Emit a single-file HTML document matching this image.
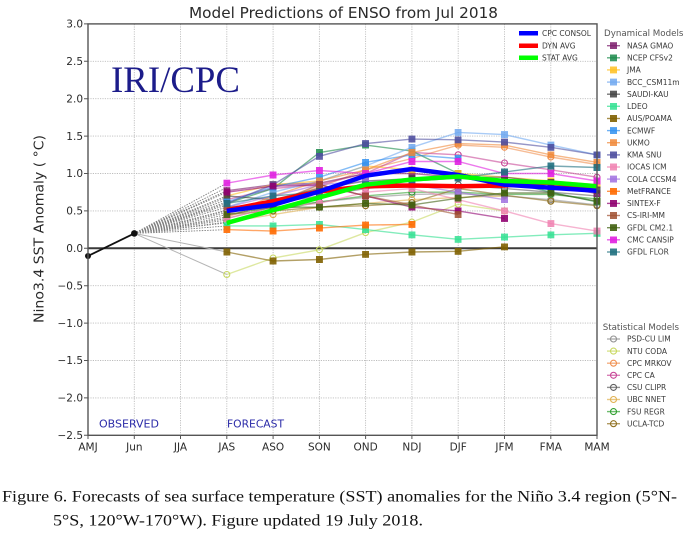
<!DOCTYPE html>
<html><head><meta charset="utf-8"><style>
html,body{margin:0;padding:0;background:#fff;}
svg{display:block;}
.t{font-family:"DejaVu Sans","Liberation Sans",sans-serif;fill:#2a2a2a;}
.lg{font-family:"DejaVu Sans","Liberation Sans",sans-serif;font-size:7.5px;fill:#3a3a3a;}
.ser{fill:none;stroke-width:1.4;stroke-opacity:0.6;}
</style></head><body>
<svg width="700" height="536" viewBox="0 0 700 536" xmlns="http://www.w3.org/2000/svg">
<defs>
<marker id="m1" viewBox="0 0 7 7" refX="3.5" refY="3.5" markerWidth="7" markerHeight="7" markerUnits="userSpaceOnUse"><rect width="7" height="7" fill="#7b1b6b" fill-opacity="0.85"/></marker>
<marker id="m2" viewBox="0 0 7 7" refX="3.5" refY="3.5" markerWidth="7" markerHeight="7" markerUnits="userSpaceOnUse"><rect width="7" height="7" fill="#1a8a4a" fill-opacity="0.85"/></marker>
<marker id="m3" viewBox="0 0 7 7" refX="3.5" refY="3.5" markerWidth="7" markerHeight="7" markerUnits="userSpaceOnUse"><rect width="7" height="7" fill="#ffc020" fill-opacity="0.85"/></marker>
<marker id="m4" viewBox="0 0 7 7" refX="3.5" refY="3.5" markerWidth="7" markerHeight="7" markerUnits="userSpaceOnUse"><rect width="7" height="7" fill="#70a8f0" fill-opacity="0.85"/></marker>
<marker id="m5" viewBox="0 0 7 7" refX="3.5" refY="3.5" markerWidth="7" markerHeight="7" markerUnits="userSpaceOnUse"><rect width="7" height="7" fill="#404040" fill-opacity="0.85"/></marker>
<marker id="m6" viewBox="0 0 7 7" refX="3.5" refY="3.5" markerWidth="7" markerHeight="7" markerUnits="userSpaceOnUse"><rect width="7" height="7" fill="#30e090" fill-opacity="0.85"/></marker>
<marker id="m7" viewBox="0 0 7 7" refX="3.5" refY="3.5" markerWidth="7" markerHeight="7" markerUnits="userSpaceOnUse"><rect width="7" height="7" fill="#806000" fill-opacity="0.9"/></marker>
<marker id="m8" viewBox="0 0 7 7" refX="3.5" refY="3.5" markerWidth="7" markerHeight="7" markerUnits="userSpaceOnUse"><rect width="7" height="7" fill="#3090f0" fill-opacity="0.85"/></marker>
<marker id="m9" viewBox="0 0 7 7" refX="3.5" refY="3.5" markerWidth="7" markerHeight="7" markerUnits="userSpaceOnUse"><rect width="7" height="7" fill="#f08838" fill-opacity="0.85"/></marker>
<marker id="m10" viewBox="0 0 7 7" refX="3.5" refY="3.5" markerWidth="7" markerHeight="7" markerUnits="userSpaceOnUse"><rect width="7" height="7" fill="#5050a0" fill-opacity="0.9"/></marker>
<marker id="m11" viewBox="0 0 7 7" refX="3.5" refY="3.5" markerWidth="7" markerHeight="7" markerUnits="userSpaceOnUse"><rect width="7" height="7" fill="#f080b0" fill-opacity="0.85"/></marker>
<marker id="m12" viewBox="0 0 7 7" refX="3.5" refY="3.5" markerWidth="7" markerHeight="7" markerUnits="userSpaceOnUse"><rect width="7" height="7" fill="#a070e0" fill-opacity="0.85"/></marker>
<marker id="m13" viewBox="0 0 7 7" refX="3.5" refY="3.5" markerWidth="7" markerHeight="7" markerUnits="userSpaceOnUse"><rect width="7" height="7" fill="#ff6a00" fill-opacity="0.9"/></marker>
<marker id="m14" viewBox="0 0 7 7" refX="3.5" refY="3.5" markerWidth="7" markerHeight="7" markerUnits="userSpaceOnUse"><rect width="7" height="7" fill="#900070" fill-opacity="0.9"/></marker>
<marker id="m15" viewBox="0 0 7 7" refX="3.5" refY="3.5" markerWidth="7" markerHeight="7" markerUnits="userSpaceOnUse"><rect width="7" height="7" fill="#a05030" fill-opacity="0.85"/></marker>
<marker id="m16" viewBox="0 0 7 7" refX="3.5" refY="3.5" markerWidth="7" markerHeight="7" markerUnits="userSpaceOnUse"><rect width="7" height="7" fill="#406010" fill-opacity="0.9"/></marker>
<marker id="m17" viewBox="0 0 7 7" refX="3.5" refY="3.5" markerWidth="7" markerHeight="7" markerUnits="userSpaceOnUse"><rect width="7" height="7" fill="#e020e0" fill-opacity="0.9"/></marker>
<marker id="m18" viewBox="0 0 7 7" refX="3.5" refY="3.5" markerWidth="7" markerHeight="7" markerUnits="userSpaceOnUse"><rect width="7" height="7" fill="#207080" fill-opacity="0.9"/></marker>
<marker id="s1" viewBox="0 0 8 8" refX="4" refY="4" markerWidth="8" markerHeight="8" markerUnits="userSpaceOnUse"><circle cx="4" cy="4" r="3" fill="none" stroke="#909090" stroke-width="1.1"/></marker>
<marker id="s2" viewBox="0 0 8 8" refX="4" refY="4" markerWidth="8" markerHeight="8" markerUnits="userSpaceOnUse"><circle cx="4" cy="4" r="3" fill="none" stroke="#c8d860" stroke-width="1.1"/></marker>
<marker id="s3" viewBox="0 0 8 8" refX="4" refY="4" markerWidth="8" markerHeight="8" markerUnits="userSpaceOnUse"><circle cx="4" cy="4" r="3" fill="none" stroke="#f09050" stroke-width="1.1"/></marker>
<marker id="s4" viewBox="0 0 8 8" refX="4" refY="4" markerWidth="8" markerHeight="8" markerUnits="userSpaceOnUse"><circle cx="4" cy="4" r="3" fill="none" stroke="#c84898" stroke-width="1.1"/></marker>
<marker id="s5" viewBox="0 0 8 8" refX="4" refY="4" markerWidth="8" markerHeight="8" markerUnits="userSpaceOnUse"><circle cx="4" cy="4" r="3" fill="none" stroke="#606060" stroke-width="1.1"/></marker>
<marker id="s6" viewBox="0 0 8 8" refX="4" refY="4" markerWidth="8" markerHeight="8" markerUnits="userSpaceOnUse"><circle cx="4" cy="4" r="3" fill="none" stroke="#e0b050" stroke-width="1.1"/></marker>
<marker id="s7" viewBox="0 0 8 8" refX="4" refY="4" markerWidth="8" markerHeight="8" markerUnits="userSpaceOnUse"><circle cx="4" cy="4" r="3" fill="none" stroke="#30a030" stroke-width="1.1"/></marker>
<marker id="s8" viewBox="0 0 8 8" refX="4" refY="4" markerWidth="8" markerHeight="8" markerUnits="userSpaceOnUse"><circle cx="4" cy="4" r="3" fill="none" stroke="#907020" stroke-width="1.1"/></marker>
</defs>

<rect width="700" height="536" fill="#fff"/>

<!-- title -->
<text class="t" x="189" y="18" font-size="15" textLength="309" lengthAdjust="spacingAndGlyphs">Model Predictions of ENSO from Jul 2018</text>

<!-- grid -->
<g stroke="#bdbdbd" stroke-width="0.9" stroke-dasharray="1.2 1.2" fill="none">
<path d="M134.3 24V435M180.5 24V435M226.8 24V435M273.1 24V435M319.4 24V435M365.6 24V435M411.9 24V435M458.2 24V435M504.5 24V435M550.8 24V435"/>
<path d="M88 61.3H597M88 98.7H597M88 136.1H597M88 173.5H597M88 210.9H597M88 285.7H597M88 323.1H597M88 360.5H597M88 397.9H597"/>
</g>

<!-- zero line -->
<line x1="88" y1="248.3" x2="597" y2="248.3" stroke="#3a3a3a" stroke-width="2"/>

<!-- IRI/CPC -->
<text x="111" y="92" font-family="'Liberation Serif',serif" font-size="37" fill="#1c1c8a" textLength="129" lengthAdjust="spacingAndGlyphs">IRI/CPC</text>

<!-- fan from Jun -->
<path fill="none" stroke="#000" stroke-opacity="0.5" stroke-width="0.9" stroke-dasharray="1.5 1.2" d="M134.3 233.4L226.8 190.7M134.3 233.4L226.8 203.4M134.3 233.4L226.8 195.9M134.3 233.4L226.8 207.2M134.3 233.4L226.8 225.9M134.3 233.4L226.8 201.9M134.3 233.4L226.8 214.6M134.3 233.4L226.8 218.4M134.3 233.4L226.8 229.6M134.3 233.4L226.8 192.2M134.3 233.4L226.8 183.2M134.3 233.4L226.8 216.9M134.3 233.4L226.8 199.7M134.3 233.4L226.8 210.9M134.3 233.4L226.8 222.1M134.3 233.4L226.8 210.2M134.3 233.4L226.8 222.9M134.3 233.4L226.8 187.5M134.3 233.4L226.8 197.5M134.3 233.4L226.8 212.5M134.3 233.4L226.8 220M134.3 233.4L226.8 205"/>
<path fill="none" stroke="#b5b5b5" stroke-width="1" d="M134.3 233.4L226.8 274.5M134.3 233.4L226.8 252"/>

<!-- statistical models -->
<polyline class="ser" stroke="#909090" marker-start="url(#s1)" marker-mid="url(#s1)" marker-end="url(#s1)" points="226.8,218.4 273.1,207.2 319.4,201.9 365.6,197.4 411.9,194.4 458.2,193.7 504.5,195.9 550.8,199.7 597,204.9"/>
<polyline class="ser" stroke="#c8d860" marker-start="url(#s2)" marker-mid="url(#s2)" marker-end="url(#s2)" points="226.8,274.5 273.1,258 319.4,249.8 365.6,232.6 411.9,222.1 458.2,204.2 504.5,210.9"/>
<polyline class="ser" stroke="#f09050" marker-start="url(#s3)" marker-mid="url(#s3)" marker-end="url(#s3)" points="226.8,216.9 273.1,201.9 319.4,187 365.6,169.8 411.9,158.5 458.2,145.1 504.5,147.3 550.8,157 597,164.5"/>
<polyline class="ser" stroke="#c84898" marker-start="url(#s4)" marker-mid="url(#s4)" marker-end="url(#s4)" points="226.8,199.7 273.1,188.5 319.4,184.7 365.6,173.5 411.9,152.5 458.2,154.8 504.5,163 550.8,169.8 597,177.2"/>
<polyline class="ser" stroke="#606060" marker-start="url(#s5)" marker-mid="url(#s5)" marker-end="url(#s5)" points="226.8,210.9 273.1,203.4 319.4,195.9 365.6,188.5 411.9,184.7 458.2,184.7 504.5,188.5 550.8,192.2 597,195.9"/>
<polyline class="ser" stroke="#e0b050" marker-start="url(#s6)" marker-mid="url(#s6)" marker-end="url(#s6)" points="226.8,222.1 273.1,214.6 319.4,207.2 365.6,203.4 411.9,199.7 458.2,197.4 504.5,195.9"/>
<polyline class="ser" stroke="#30a030" marker-start="url(#s7)" marker-mid="url(#s7)" marker-end="url(#s7)" points="226.8,222.1 273.1,210.9 319.4,201.9 365.6,195.9 411.9,192.2 458.2,192.2 504.5,194.4 550.8,194.4 597,198.9"/>
<polyline class="ser" stroke="#907020" marker-start="url(#s8)" marker-mid="url(#s8)" marker-end="url(#s8)" points="226.8,214.6 273.1,210.9 319.4,207.2 365.6,205.7 411.9,202.7 458.2,188.5 504.5,195.2 550.8,201.2 597,205.7"/>

<!-- dynamical models -->
<polyline class="ser" stroke="#7b1b6b" marker-start="url(#m1)" marker-mid="url(#m1)" marker-end="url(#m1)" points="226.8,190.7 273.1,184.7 319.4,183.2 365.6,173.5 411.9,173.5 458.2,177.2 504.5,181 550.8,184.7 597,193.7"/>
<polyline class="ser" stroke="#1a8a4a" marker-start="url(#m2)" marker-mid="url(#m2)" marker-end="url(#m2)" points="226.8,203.4 273.1,188.5 319.4,152.5 365.6,145.1 411.9,151.1 458.2,173.5 504.5,181 550.8,192.2 597,201.9"/>
<polyline class="ser" stroke="#ffc020" marker-start="url(#m3)" marker-mid="url(#m3)" marker-end="url(#m3)" points="226.8,195.9 273.1,184.7 319.4,181 365.6,166 411.9,169.8 458.2,173.5 504.5,177.2 550.8,181 597,184.7"/>
<polyline class="ser" stroke="#70a8f0" marker-start="url(#m4)" marker-mid="url(#m4)" marker-end="url(#m4)" points="226.8,207.2 273.1,192.2 319.4,181 365.6,166 411.9,147.3 458.2,132.4 504.5,134.6 550.8,145.1 597,154.8"/>
<polyline class="ser" stroke="#404040" marker-start="url(#m5)" marker-mid="url(#m5)" marker-end="url(#m5)" points="226.8,195.9 273.1,199.7 319.4,188.5 365.6,181 411.9,178.7 458.2,177.2 504.5,177.2 550.8,182.5 597,190"/>
<polyline class="ser" stroke="#30e090" marker-start="url(#m6)" marker-mid="url(#m6)" marker-end="url(#m6)" points="226.8,225.9 273.1,225.9 319.4,224.4 365.6,229.6 411.9,234.8 458.2,239.3 504.5,237.1 550.8,234.8 597,233.3"/>
<polyline class="ser" stroke="#806000" marker-start="url(#m7)" marker-mid="url(#m7)" marker-end="url(#m7)" points="226.8,252 273.1,261 319.4,259.5 365.6,254.3 411.9,252 458.2,251.3 504.5,246.8"/>
<polyline class="ser" stroke="#3090f0" marker-start="url(#m8)" marker-mid="url(#m8)" marker-end="url(#m8)" points="226.8,201.9 273.1,187 319.4,177.2 365.6,162.3 411.9,154.8 458.2,158.5"/>
<polyline class="ser" stroke="#f08838" marker-start="url(#m9)" marker-mid="url(#m9)" marker-end="url(#m9)" points="226.8,214.6 273.1,195.9 319.4,181 365.6,169.8 411.9,152.5 458.2,143.6 504.5,145.1 550.8,154.8 597,162.3"/>
<polyline class="ser" stroke="#5050a0" marker-start="url(#m10)" marker-mid="url(#m10)" marker-end="url(#m10)" points="226.8,203.4 273.1,184.7 319.4,156.3 365.6,143.6 411.9,139.1 458.2,139.8 504.5,142.1 550.8,147.3 597,154.8"/>
<polyline class="ser" stroke="#f080b0" marker-start="url(#m11)" marker-mid="url(#m11)" marker-end="url(#m11)" points="226.8,218.4 273.1,207.2 319.4,203.4 365.6,192.2 411.9,188.5 458.2,199.7 504.5,210.9 550.8,223.6 597,231.1"/>
<polyline class="ser" stroke="#a070e0" marker-start="url(#m12)" marker-mid="url(#m12)" marker-end="url(#m12)" points="226.8,207.2 273.1,195.9 319.4,184.7 365.6,181 411.9,184.7 458.2,192.2 504.5,199.7"/>
<polyline class="ser" stroke="#ff6a00" marker-start="url(#m13)" marker-mid="url(#m13)" marker-end="url(#m13)" points="226.8,229.6 273.1,231.1 319.4,228.1 365.6,225.1 411.9,224.4"/>
<polyline class="ser" stroke="#900070" marker-start="url(#m14)" marker-mid="url(#m14)" marker-end="url(#m14)" points="226.8,192.2 273.1,186.2 319.4,184.7 365.6,195.9 411.9,207.2 458.2,210.9 504.5,218.4"/>
<polyline class="ser" stroke="#a05030" marker-start="url(#m15)" marker-mid="url(#m15)" marker-end="url(#m15)" points="226.8,207.2 273.1,203.4 319.4,184.7 365.6,195.9 411.9,204.9 458.2,214.6"/>
<polyline class="ser" stroke="#406010" marker-start="url(#m16)" marker-mid="url(#m16)" marker-end="url(#m16)" points="226.8,214.6 273.1,207.2 319.4,207.2 365.6,203.4 411.9,204.9 458.2,198.2 504.5,193 550.8,193 597,201.2"/>
<polyline class="ser" stroke="#e020e0" marker-start="url(#m17)" marker-mid="url(#m17)" marker-end="url(#m17)" points="226.8,183.2 273.1,175 319.4,170.5 365.6,173.5 411.9,161.5 458.2,161.5 504.5,173.5 550.8,173.5 597,181"/>
<polyline class="ser" stroke="#207080" marker-start="url(#m18)" marker-mid="url(#m18)" marker-end="url(#m18)" points="226.8,203.4 273.1,195.9 319.4,192.2 365.6,184.7 411.9,181 458.2,178 504.5,172 550.8,166 597,167.5"/>

<!-- averages -->
<polyline fill="none" stroke="#ff0000" stroke-width="4.5" stroke-linejoin="round" points="226.8,210.2 273.1,201.2 319.4,191.5 365.6,186.2 411.9,185.5 458.2,186.2 504.5,185.5 550.8,182.5 597,189.2"/>
<polyline fill="none" stroke="#0000ff" stroke-width="4.5" stroke-linejoin="round" points="226.8,210.9 273.1,204.9 319.4,191.5 365.6,175.7 411.9,169 458.2,175 504.5,184.7 550.8,187.7 597,190.7"/>
<polyline fill="none" stroke="#00ff00" stroke-width="4.5" stroke-linejoin="round" points="226.8,222.9 273.1,210.2 319.4,197.4 365.6,184.7 411.9,179.5 458.2,176.5 504.5,181 550.8,182.5 597,186.2"/>

<!-- observed -->
<polyline fill="none" stroke="#111" stroke-width="1.8" points="88,256 134.3,233.4"/>
<circle cx="88" cy="256" r="3" fill="#111"/>
<circle cx="134.3" cy="233.4" r="3.3" fill="#111"/>

<!-- axes frame -->
<rect x="88" y="23.9" width="509" height="411.4" fill="none" stroke="#555" stroke-width="1.4"/>

<!-- ticks -->
<g stroke="#555" stroke-width="1">
<path d="M84 23.9H88M84 61.3H88M84 98.7H88M84 136.1H88M84 173.5H88M84 210.9H88M84 248.3H88M84 285.7H88M84 323.1H88M84 360.5H88M84 397.9H88M84 435.3H88"/>
<path d="M88 435V439M134.3 435V439M180.5 435V439M226.8 435V439M273.1 435V439M319.4 435V439M365.6 435V439M411.9 435V439M458.2 435V439M504.5 435V439M550.8 435V439M597 435V439"/>
</g>
<g class="t" font-size="10.5" text-anchor="end">
<text x="83" y="27.6">3.0</text>
<text x="83" y="65">2.5</text>
<text x="83" y="102.4">2.0</text>
<text x="83" y="139.8">1.5</text>
<text x="83" y="177.2">1.0</text>
<text x="83" y="214.6">0.5</text>
<text x="83" y="252">0.0</text>
<text x="83" y="289.4">−0.5</text>
<text x="83" y="326.8">−1.0</text>
<text x="83" y="364.2">−1.5</text>
<text x="83" y="401.6">−2.0</text>
<text x="83" y="439">−2.5</text>
</g>
<g class="t" font-size="10.5" text-anchor="middle">
<text x="88" y="450.5">AMJ</text>
<text x="134.3" y="450.5">Jun</text>
<text x="180.5" y="450.5">JJA</text>
<text x="226.8" y="450.5">JAS</text>
<text x="273.1" y="450.5">ASO</text>
<text x="319.4" y="450.5">SON</text>
<text x="365.6" y="450.5">OND</text>
<text x="411.9" y="450.5">NDJ</text>
<text x="458.2" y="450.5">DJF</text>
<text x="504.5" y="450.5">JFM</text>
<text x="550.8" y="450.5">FMA</text>
<text x="597" y="450.5">MAM</text>
</g>

<!-- y label -->
<text class="t" font-size="13" text-anchor="middle" transform="translate(43.5,229) rotate(-90)" textLength="188" lengthAdjust="spacingAndGlyphs">Nino3.4 SST Anomaly ( °C)</text>

<!-- observed / forecast -->
<text x="99" y="427.5" font-family="'DejaVu Sans','Liberation Sans',sans-serif" font-size="10.5" fill="#2a2aa8" textLength="60" lengthAdjust="spacingAndGlyphs">OBSERVED</text>
<text x="227" y="427.5" font-family="'DejaVu Sans','Liberation Sans',sans-serif" font-size="10.5" fill="#2a2aa8" textLength="57" lengthAdjust="spacingAndGlyphs">FORECAST</text>

<!-- inner legend -->
<line x1="519" y1="33.3" x2="538" y2="33.3" stroke="#0000ff" stroke-width="4.5"/>
<line x1="519" y1="45.7" x2="538" y2="45.7" stroke="#ff0000" stroke-width="4.5"/>
<line x1="519" y1="57.7" x2="538" y2="57.7" stroke="#00ff00" stroke-width="4.5"/>
<text class="lg" x="542" y="36">CPC CONSOL</text>
<text class="lg" x="542" y="48.4">DYN AVG</text>
<text class="lg" x="542" y="60.4">STAT AVG</text>

<!-- right legend: dynamical -->
<text x="604" y="36.2" font-family="'DejaVu Sans','Liberation Sans',sans-serif" font-size="8.7" fill="#555">Dynamical Models</text>
<g class="ser" style="stroke-opacity:0.7">
<polyline stroke="#7b1b6b" marker-mid="url(#m1)" points="607,45.7 613.5,45.7 620,45.7"/>
<polyline stroke="#1a8a4a" marker-mid="url(#m2)" points="607,57.8 613.5,57.8 620,57.8"/>
<polyline stroke="#ffc020" marker-mid="url(#m3)" points="607,69.9 613.5,69.9 620,69.9"/>
<polyline stroke="#70a8f0" marker-mid="url(#m4)" points="607,82.1 613.5,82.1 620,82.1"/>
<polyline stroke="#404040" marker-mid="url(#m5)" points="607,94.2 613.5,94.2 620,94.2"/>
<polyline stroke="#30e090" marker-mid="url(#m6)" points="607,106.3 613.5,106.3 620,106.3"/>
<polyline stroke="#806000" marker-mid="url(#m7)" points="607,118.5 613.5,118.5 620,118.5"/>
<polyline stroke="#3090f0" marker-mid="url(#m8)" points="607,130.6 613.5,130.6 620,130.6"/>
<polyline stroke="#f08838" marker-mid="url(#m9)" points="607,142.7 613.5,142.7 620,142.7"/>
<polyline stroke="#5050a0" marker-mid="url(#m10)" points="607,154.9 613.5,154.9 620,154.9"/>
<polyline stroke="#f080b0" marker-mid="url(#m11)" points="607,167 613.5,167 620,167"/>
<polyline stroke="#a070e0" marker-mid="url(#m12)" points="607,179.1 613.5,179.1 620,179.1"/>
<polyline stroke="#ff6a00" marker-mid="url(#m13)" points="607,191.3 613.5,191.3 620,191.3"/>
<polyline stroke="#900070" marker-mid="url(#m14)" points="607,203.4 613.5,203.4 620,203.4"/>
<polyline stroke="#a05030" marker-mid="url(#m15)" points="607,215.5 613.5,215.5 620,215.5"/>
<polyline stroke="#406010" marker-mid="url(#m16)" points="607,227.7 613.5,227.7 620,227.7"/>
<polyline stroke="#e020e0" marker-mid="url(#m17)" points="607,239.8 613.5,239.8 620,239.8"/>
<polyline stroke="#207080" marker-mid="url(#m18)" points="607,252 613.5,252 620,252"/>
</g>
<g class="lg">
<text x="627" y="48.4">NASA GMAO</text>
<text x="627" y="60.5">NCEP CFSv2</text>
<text x="627" y="72.6">JMA</text>
<text x="627" y="84.8">BCC_CSM11m</text>
<text x="627" y="96.9">SAUDI-KAU</text>
<text x="627" y="109">LDEO</text>
<text x="627" y="121.2">AUS/POAMA</text>
<text x="627" y="133.3">ECMWF</text>
<text x="627" y="145.4">UKMO</text>
<text x="627" y="157.6">KMA SNU</text>
<text x="627" y="169.7">IOCAS ICM</text>
<text x="627" y="181.8">COLA CCSM4</text>
<text x="627" y="194">MetFRANCE</text>
<text x="627" y="206.1">SINTEX-F</text>
<text x="627" y="218.2">CS-IRI-MM</text>
<text x="627" y="230.4">GFDL CM2.1</text>
<text x="627" y="242.5">CMC CANSIP</text>
<text x="627" y="254.7">GFDL FLOR</text>
</g>

<!-- right legend: statistical -->
<text x="602.7" y="329.8" font-family="'DejaVu Sans','Liberation Sans',sans-serif" font-size="8.7" fill="#555">Statistical Models</text>
<g class="ser" style="stroke-opacity:0.7">
<polyline stroke="#909090" marker-mid="url(#s1)" points="607,339 613.5,339 620,339"/>
<polyline stroke="#c8d860" marker-mid="url(#s2)" points="607,351.1 613.5,351.1 620,351.1"/>
<polyline stroke="#f09050" marker-mid="url(#s3)" points="607,363.2 613.5,363.2 620,363.2"/>
<polyline stroke="#c84898" marker-mid="url(#s4)" points="607,375.3 613.5,375.3 620,375.3"/>
<polyline stroke="#606060" marker-mid="url(#s5)" points="607,387.4 613.5,387.4 620,387.4"/>
<polyline stroke="#e0b050" marker-mid="url(#s6)" points="607,399.5 613.5,399.5 620,399.5"/>
<polyline stroke="#30a030" marker-mid="url(#s7)" points="607,411.6 613.5,411.6 620,411.6"/>
<polyline stroke="#907020" marker-mid="url(#s8)" points="607,423.7 613.5,423.7 620,423.7"/>
</g>
<g class="lg">
<text x="627" y="341.7">PSD-CU LIM</text>
<text x="627" y="353.8">NTU CODA</text>
<text x="627" y="365.9">CPC MRKOV</text>
<text x="627" y="378">CPC CA</text>
<text x="627" y="390.1">CSU CLIPR</text>
<text x="627" y="402.2">UBC NNET</text>
<text x="627" y="414.3">FSU REGR</text>
<text x="627" y="426.4">UCLA-TCD</text>
</g>

<!-- caption -->
<text x="2" y="501.5" font-family="'Liberation Serif',serif" font-size="16" fill="#111" textLength="675" lengthAdjust="spacingAndGlyphs">Figure 6. Forecasts of sea surface temperature (SST) anomalies for the Niño 3.4 region (5°N-</text>
<text x="53" y="525.7" font-family="'Liberation Serif',serif" font-size="16" fill="#111" textLength="370" lengthAdjust="spacingAndGlyphs">5°S, 120°W-170°W). Figure updated 19 July 2018.</text>
</svg>
</body></html>
